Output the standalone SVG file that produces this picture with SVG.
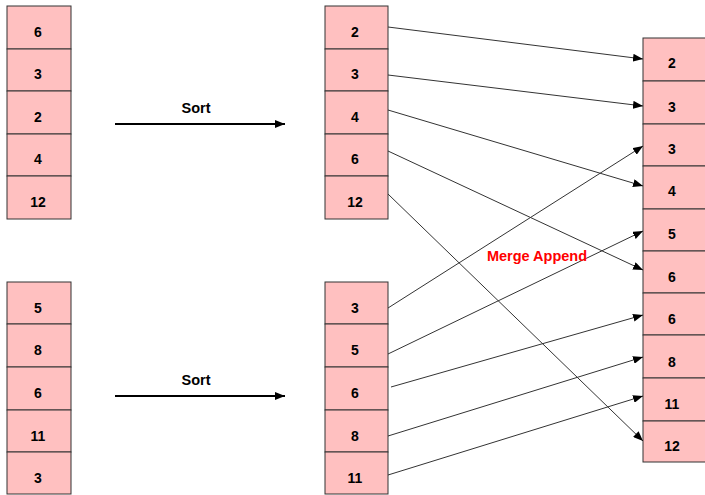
<svg xmlns="http://www.w3.org/2000/svg" width="705" height="495" viewBox="0 0 705 495">
<style>
.cell{fill:#ffc0c0;stroke:#333;stroke-width:1}
.t{font-family:"Liberation Sans",Arial,sans-serif;font-size:14px;font-weight:bold;fill:#000;text-anchor:middle}
.c{stroke:#333;stroke-width:1;fill:none;marker-end:url(#ah)}
.s{stroke:#000;stroke-width:2;fill:none;marker-end:url(#ah2)}
.lbl{font-family:"Liberation Sans",Arial,sans-serif;font-size:14.5px;font-weight:bold;text-anchor:middle}
</style>
<defs>
<marker id="ah" markerWidth="10" markerHeight="8" refX="10" refY="4" orient="auto" markerUnits="userSpaceOnUse">
<path d="M0,0 L10,4 L0,8 Z" fill="#000"/>
</marker>
<marker id="ah2" markerWidth="10" markerHeight="8" refX="10" refY="4" orient="auto" markerUnits="userSpaceOnUse">
<path d="M0,0 L10,4 L0,8 Z" fill="#000"/>
</marker>
</defs>
<rect width="705" height="495" fill="#fff"/>
<g id="left-top">
<rect class="cell" x="7" y="6" width="64" height="43"/><text class="t" x="38" y="37">6</text>
<rect class="cell" x="7" y="49" width="64" height="42"/><text class="t" x="38" y="79">3</text>
<rect class="cell" x="7" y="91" width="64" height="43"/><text class="t" x="38" y="122">2</text>
<rect class="cell" x="7" y="134" width="64" height="42"/><text class="t" x="38" y="164">4</text>
<rect class="cell" x="7" y="176" width="64" height="43"/><text class="t" x="38" y="207">12</text>
</g>
<g id="left-bottom">
<rect class="cell" x="7" y="282" width="64" height="42"/><text class="t" x="38" y="313">5</text>
<rect class="cell" x="7" y="324" width="64" height="43"/><text class="t" x="38" y="355">8</text>
<rect class="cell" x="7" y="367" width="64" height="43"/><text class="t" x="38" y="398">6</text>
<rect class="cell" x="7" y="410" width="64" height="42"/><text class="t" x="38" y="441">11</text>
<rect class="cell" x="7" y="452" width="64" height="42"/><text class="t" x="38" y="483">3</text>
</g>
<g id="mid-top">
<rect class="cell" x="325" y="6" width="63" height="43"/><text class="t" x="355" y="37">2</text>
<rect class="cell" x="325" y="49" width="63" height="42"/><text class="t" x="355" y="79">3</text>
<rect class="cell" x="325" y="91" width="63" height="43"/><text class="t" x="355" y="122">4</text>
<rect class="cell" x="325" y="134" width="63" height="42"/><text class="t" x="355" y="164">6</text>
<rect class="cell" x="325" y="176" width="63" height="43"/><text class="t" x="355" y="207">12</text>
</g>
<g id="mid-bottom">
<rect class="cell" x="325" y="282" width="63" height="42"/><text class="t" x="355" y="313">3</text>
<rect class="cell" x="325" y="324" width="63" height="43"/><text class="t" x="355" y="355">5</text>
<rect class="cell" x="325" y="367" width="63" height="43"/><text class="t" x="355" y="398">6</text>
<rect class="cell" x="325" y="410" width="63" height="42"/><text class="t" x="355" y="441">8</text>
<rect class="cell" x="325" y="452" width="63" height="42"/><text class="t" x="355" y="483">11</text>
</g>
<g id="right">
<rect class="cell" x="643" y="38" width="64" height="43"/><text class="t" x="672" y="68">2</text>
<rect class="cell" x="643" y="81" width="64" height="43"/><text class="t" x="672" y="112">3</text>
<rect class="cell" x="643" y="124" width="64" height="42"/><text class="t" x="672" y="154">3</text>
<rect class="cell" x="643" y="166" width="64" height="43"/><text class="t" x="672" y="196">4</text>
<rect class="cell" x="643" y="209" width="64" height="42"/><text class="t" x="672" y="239">5</text>
<rect class="cell" x="643" y="251" width="64" height="42"/><text class="t" x="672" y="282">6</text>
<rect class="cell" x="643" y="293" width="64" height="42"/><text class="t" x="672" y="324">6</text>
<rect class="cell" x="643" y="335" width="64" height="43"/><text class="t" x="672" y="367">8</text>
<rect class="cell" x="643" y="378" width="64" height="43"/><text class="t" x="672" y="409">11</text>
<rect class="cell" x="643" y="421" width="64" height="41"/><text class="t" x="672" y="451">12</text>
</g>
<g id="sort-top">
<line class="s" x1="115" y1="124" x2="285" y2="124"/>
<text class="lbl" x="196" y="113">Sort</text>
</g>
<g id="sort-bottom">
<line class="s" x1="115" y1="396" x2="285" y2="396"/>
<text class="lbl" x="196" y="385">Sort</text>
</g>
<g id="connectors">
<line class="c" x1="388" y1="27" x2="643" y2="59"/>
<line class="c" x1="388" y1="75" x2="643" y2="106"/>
<line class="c" x1="388" y1="110" x2="643" y2="186"/>
<line class="c" x1="388" y1="151" x2="643" y2="270"/>
<line class="c" x1="388" y1="194" x2="643" y2="441"/>
<line class="c" x1="388" y1="308" x2="643" y2="146"/>
<line class="c" x1="388" y1="354" x2="643" y2="231"/>
<line class="c" x1="391" y1="387" x2="643" y2="315"/>
<line class="c" x1="388" y1="436" x2="643" y2="357"/>
<line class="c" x1="388" y1="475" x2="643" y2="396"/>
</g>
<g id="merge-label">
<text class="lbl" x="537" y="261" fill="#ff0000">Merge Append</text>
</g>
</svg>
